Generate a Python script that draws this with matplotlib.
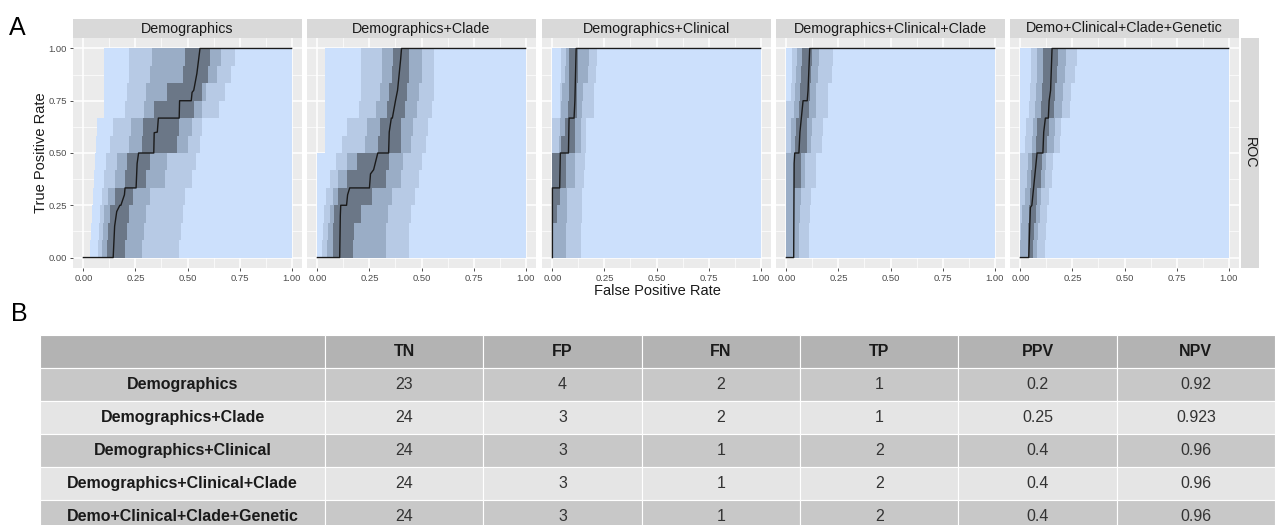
"""ROC curves with bootstrap confidence bands per model, plus a confusion-count table."""

import numpy as np
import matplotlib.pyplot as plt
from matplotlib.patches import Rectangle

plt.rcParams["font.family"] = ["Liberation Sans", "DejaVu Sans"]

FIG_W, FIG_H = 1275, 525

MODELS = [
    "Demographics",
    "Demographics+Clade",
    "Demographics+Clinical",
    "Demographics+Clinical+Clade",
    "Demo+Clinical+Clade+Genetic",
]

# averaged ROC curves: (false positive rate, true positive rate)
ROC_FPR = [
    [0, 0.143, 0.150, 0.160, 0.175, 0.180, 0.197, 0.200, 0.253, 0.258, 0.265, 0.338, 0.340,
     0.355, 0.360, 0.460, 0.462, 0.518, 0.522, 0.530, 0.545, 0.560, 1.0],
    [0, 0.107, 0.110, 0.112, 0.140, 0.145, 0.155, 0.250, 0.255, 0.270, 0.290, 0.342, 0.345,
     0.355, 0.360, 0.375, 0.385, 0.400, 0.404, 1.0],
    [0, 0, 0.035, 0.038, 0.077, 0.080, 0.104, 0.108, 0.114, 1.0],
    [0, 0.035, 0.037, 0.040, 0.060, 0.065, 0.075, 0.080, 0.100, 0.104, 0.112, 1.0],
    [0, 0.040, 0.045, 0.048, 0.055, 0.060, 0.075, 0.080, 0.108, 0.112, 0.120, 0.134, 0.138,
     0.145, 0.152, 1.0],
]
ROC_TPR = [
    [0, 0, 0.15, 0.22, 0.25, 0.25, 0.30, 0.333, 0.333, 0.45, 0.50, 0.50, 0.597,
     0.60, 0.667, 0.667, 0.75, 0.75, 0.79, 0.80, 0.88, 1.0, 1.0],
    [0, 0, 0.20, 0.25, 0.25, 0.30, 0.333, 0.333, 0.40, 0.42, 0.50, 0.50, 0.60,
     0.667, 0.667, 0.75, 0.80, 0.95, 1.0, 1.0],
    [0, 0.333, 0.333, 0.5, 0.5, 0.667, 0.667, 0.75, 1.0, 1.0],
    [0, 0, 0.45, 0.50, 0.50, 0.60, 0.70, 0.75, 0.75, 0.80, 1.0, 1.0],
    [0, 0, 0.15, 0.24, 0.25, 0.30, 0.45, 0.50, 0.50, 0.60, 0.667, 0.667, 0.75,
     0.80, 1.0, 1.0],
]

# confidence bands on FPR, one value per twelfth of TPR (0-1/12, ..., 11/12-1)
TPR_GRID = np.arange(13) / 12

OUTER_LO = [
    [0.03, 0.035, 0.04, 0.045, 0.05, 0.055, 0.06, 0.065, 0.10, 0.10, 0.10, 0.10],
    [0, 0, 0, 0, 0, 0, 0.035, 0.035, 0.035, 0.035, 0.035, 0.035],
    [0] * 12,
    [0] * 12,
    [0] * 12,
]
BAND2_LO = [
    [0.07, 0.075, 0.08, 0.09, 0.10, 0.11, 0.13, 0.14, 0.20, 0.21, 0.22, 0.22],
    [0.02, 0.025, 0.03, 0.04, 0.06, 0.09, 0.12, 0.14, 0.20, 0.21, 0.21, 0.21],
    [0, 0, 0, 0, 0, 0, 0, 0, 0.035, 0.035, 0.04, 0.04],
    [0, 0, 0, 0, 0, 0, 0, 0, 0, 0.02, 0.025, 0.025],
    [0, 0, 0, 0, 0, 0, 0.02, 0.025, 0.04, 0.045, 0.05, 0.05],
]
BAND2_HI = [
    [0.46, 0.47, 0.48, 0.49, 0.52, 0.54, 0.56, 0.57, 0.65, 0.68, 0.71, 0.73],
    [0.44, 0.44, 0.45, 0.47, 0.49, 0.50, 0.52, 0.53, 0.55, 0.56, 0.56, 0.56],
    [0.135, 0.135, 0.14, 0.14, 0.15, 0.155, 0.16, 0.16, 0.20, 0.20, 0.21, 0.215],
    [0.11, 0.11, 0.115, 0.12, 0.14, 0.14, 0.17, 0.175, 0.20, 0.20, 0.22, 0.225],
    [0.12, 0.125, 0.13, 0.135, 0.15, 0.155, 0.19, 0.195, 0.24, 0.245, 0.26, 0.27],
]
BAND3_LO = [
    [0.09, 0.095, 0.10, 0.12, 0.15, 0.16, 0.22, 0.23, 0.29, 0.30, 0.32, 0.33],
    [0.045, 0.05, 0.06, 0.075, 0.10, 0.14, 0.23, 0.24, 0.28, 0.30, 0.31, 0.31],
    [0, 0, 0, 0, 0, 0, 0.03, 0.035, 0.04, 0.045, 0.06, 0.065],
    [0, 0, 0, 0, 0, 0, 0.02, 0.02, 0.035, 0.04, 0.045, 0.05],
    [0.0, 0.005, 0.01, 0.02, 0.03, 0.035, 0.055, 0.06, 0.07, 0.075, 0.08, 0.08],
]
BAND3_HI = [
    [0.28, 0.29, 0.30, 0.32, 0.39, 0.40, 0.50, 0.52, 0.57, 0.59, 0.64, 0.66],
    [0.33, 0.33, 0.34, 0.36, 0.40, 0.41, 0.45, 0.46, 0.48, 0.49, 0.50, 0.50],
    [0.065, 0.065, 0.07, 0.07, 0.11, 0.11, 0.135, 0.135, 0.14, 0.145, 0.17, 0.175],
    [0.06, 0.06, 0.065, 0.07, 0.09, 0.09, 0.12, 0.125, 0.14, 0.14, 0.15, 0.155],
    [0.08, 0.085, 0.095, 0.10, 0.12, 0.125, 0.16, 0.165, 0.20, 0.205, 0.215, 0.22],
]
CORE_LO = [
    [0.115, 0.12, 0.13, 0.15, 0.20, 0.21, 0.28, 0.285, 0.34, 0.40, 0.48, 0.49],
    [0.074, 0.075, 0.08, 0.10, 0.14, 0.19, 0.29, 0.30, 0.335, 0.345, 0.36, 0.365],
    [0, 0, 0, 0, 0, 0, 0.04, 0.06, 0.075, 0.08, 0.08, 0.08],
    [0, 0, 0, 0, 0.035, 0.035, 0.04, 0.045, 0.06, 0.065, 0.07, 0.075],
    [0.035, 0.038, 0.042, 0.045, 0.05, 0.055, 0.075, 0.08, 0.10, 0.105, 0.11, 0.11],
]
CORE_HI = [
    [0.20, 0.21, 0.22, 0.24, 0.30, 0.32, 0.45, 0.46, 0.53, 0.57, 0.60, 0.61],
    [0.17, 0.175, 0.21, 0.26, 0.33, 0.345, 0.40, 0.40, 0.42, 0.43, 0.44, 0.44],
    [0, 0, 0.02, 0.035, 0.065, 0.065, 0.11, 0.11, 0.12, 0.12, 0.125, 0.125],
    [0, 0, 0, 0, 0.07, 0.07, 0.10, 0.10, 0.11, 0.115, 0.12, 0.125],
    [0.06, 0.065, 0.075, 0.08, 0.10, 0.105, 0.13, 0.135, 0.16, 0.165, 0.175, 0.18],
]

# confusion counts and predictive values
TABLE_COLUMNS = ["TN", "FP", "FN", "TP", "PPV", "NPV"]
TN = [23, 24, 24, 24, 24]
FP = [4, 3, 3, 3, 3]
FN = [2, 2, 1, 1, 1]
TP = [1, 1, 2, 2, 2]
PPV = [0.2, 0.25, 0.4, 0.4, 0.4]
NPV = [0.92, 0.923, 0.96, 0.96, 0.96]

BAND_COLORS = ["#CCE0FC", "#B7CAE5", "#9AADC6", "#6B7787"]
TICKS = [0, 0.25, 0.5, 0.75, 1.0]


def px_box(left, top, width, height):
    return [left / FIG_W, 1 - (top + height) / FIG_H, width / FIG_W, height / FIG_H]


def step_vals(vals):
    return list(vals) + [vals[-1]]


def draw_panel(ax, i, show_y):
    ax.set_facecolor("#EBEBEB")
    ones = [1.0] * 13
    bands = [
        (step_vals(OUTER_LO[i]), ones),
        (step_vals(BAND2_LO[i]), step_vals(BAND2_HI[i])),
        (step_vals(BAND3_LO[i]), step_vals(BAND3_HI[i])),
        (step_vals(CORE_LO[i]), step_vals(CORE_HI[i])),
    ]
    for (lo, hi), color in zip(bands, BAND_COLORS):
        ax.fill_betweenx(TPR_GRID, lo, hi, step="post", color=color, linewidth=0, zorder=2)
    ax.plot(ROC_FPR[i], ROC_TPR[i], color="#1A1A1A", lw=1.0, zorder=3)

    ax.set_xlim(-0.05, 1.05)
    ax.set_ylim(-0.05, 1.05)
    ax.set_xticks(TICKS)
    ax.set_yticks(TICKS)
    ax.set_xticks([0.125, 0.375, 0.625, 0.875], minor=True)
    ax.set_yticks([0.125, 0.375, 0.625, 0.875], minor=True)
    ax.set_xticklabels([f"{t:.2f}" for t in TICKS])
    ax.grid(which="major", color="white", lw=1.1, zorder=0)
    ax.grid(which="minor", color="white", lw=0.5, zorder=0)
    ax.set_axisbelow(True)
    for s in ax.spines.values():
        s.set_visible(False)
    ax.tick_params(which="major", length=2.5, width=0.6, color="#333333",
                   labelsize=6.8, labelcolor="#4D4D4D", pad=2)
    ax.tick_params(which="minor", length=0)
    if show_y:
        ax.set_yticklabels([f"{t:.2f}" for t in TICKS])
    else:
        ax.tick_params(axis="y", which="both", left=False, labelleft=False)


def draw_strip(box, label, rotation=0):
    ax = fig.add_axes(box)
    ax.set_facecolor("#D9D9D9")
    ax.set_xticks([])
    ax.set_yticks([])
    for s in ax.spines.values():
        s.set_visible(False)
    ax.text(0.5, 0.5, label, ha="center", va="center", fontsize=10.3,
            color="#1A1A1A", rotation=rotation, transform=ax.transAxes)


fig = plt.figure(figsize=(FIG_W / 100, FIG_H / 100), dpi=100)

panel_lefts = [73, 307, 542, 776, 1010]
for i, left in enumerate(panel_lefts):
    ax = fig.add_axes(px_box(left, 38, 229, 230))
    draw_panel(ax, i, show_y=(i == 0))
    draw_strip(px_box(left, 19, 229, 19), MODELS[i])
draw_strip(px_box(1241, 38, 18, 230), "ROC", rotation=-90)

fig.text(657 / FIG_W, 1 - 291 / FIG_H, "False Positive Rate", ha="center", va="center",
         fontsize=10.5, color="#1A1A1A")
fig.text(41 / FIG_W, 1 - 153 / FIG_H, "True Positive Rate", ha="center", va="center",
         fontsize=10.5, color="#1A1A1A", rotation=90)
fig.text(9 / FIG_W, 1 - 35 / FIG_H, "A", fontsize=18, color="black", va="baseline")
fig.text(11 / FIG_W, 1 - 321 / FIG_H, "B", fontsize=18, color="black", va="baseline")

# summary table drawn in pixel space
tab = fig.add_axes([0, 0, 1, 1], zorder=-1)
tab.set_xlim(0, FIG_W)
tab.set_ylim(FIG_H, 0)
tab.axis("off")

col_edges = [40, 325] + [325 + 158.33 * (k + 1) for k in range(len(TABLE_COLUMNS))]
row_top, row_h = 335, 33
rows = list(zip(TN, FP, FN, TP, PPV, NPV))
header = [""] + TABLE_COLUMNS
for r in range(len(rows) + 1):
    y0 = row_top + r * row_h
    if r == 0:
        fill, cells = "#B3B3B3", header
    else:
        fill = "#C8C8C8" if r % 2 == 1 else "#E5E5E5"
        cells = [MODELS[r - 1]] + [f"{v:g}" for v in rows[r - 1]]
    for c, text in enumerate(cells):
        x0, x1 = col_edges[c], col_edges[c + 1]
        tab.add_patch(Rectangle((x0, y0), x1 - x0, row_h, facecolor=fill,
                                edgecolor="white", lw=0.8))
        bold = r == 0 or c == 0
        tab.text((x0 + x1) / 2, y0 + row_h / 2, text, ha="center", va="center",
                 fontsize=11.5, fontweight="bold" if bold else "normal",
                 color="#1A1A1A" if bold else "#333333")

fig.savefig("out.png", dpi=100)
